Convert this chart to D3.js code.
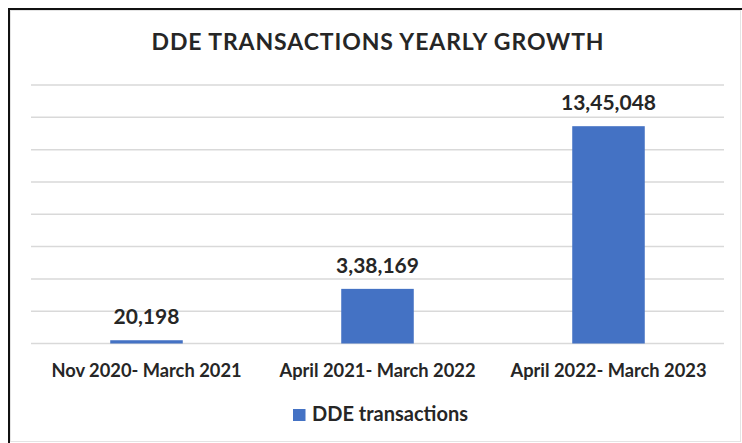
<!DOCTYPE html>
<html>
<head>
<meta charset="utf-8">
<script src="https://cdn.jsdelivr.net/npm/d3@7"></script>
<style>
  html, body { margin: 0; padding: 0; background: #fff; }
  svg { display: block; }
  text { font-family: Lato, "Open Sans", sans-serif; font-weight: 700; fill: #262626; }
</style>
</head>
<body>
<svg id="chart" width="742" height="443"></svg>
<script>
// Periods and DDE transaction counts
const categories = ["Nov 2020- March 2021", "April 2021- March 2022", "April 2022- March 2023"];
const transactions = [20198, 338169, 1345048];
const valueLabels = ["20,198", "3,38,169", "13,45,048"];
const yTicks = [0, 200000, 400000, 600000, 800000, 1000000, 1200000, 1400000, 1600000];
const seriesName = "DDE transactions";
const chartTitle = "DDE TRANSACTIONS YEARLY GROWTH";

const W = 742, H = 443;
const plot = { left: 31, right: 724, top: 85, bottom: 343.5 };
const barColor = "#4472C4";

const svg = d3.select("#chart");

// outer frame: light inner edge, dark top/left edge
svg.append("rect")
  .attr("x", 10.5).attr("y", 10.5)
  .attr("width", W - 12).attr("height", H - 12)
  .attr("fill", "#fff").attr("stroke", "#e4e4e4").attr("stroke-width", 1);
svg.append("path")
  .attr("d", `M9,${H} V9 H${W}`)
  .attr("fill", "none").attr("stroke", "#111").attr("stroke-width", 2);

const x = d3.scaleBand()
  .domain(categories)
  .range([plot.left, plot.right])
  .paddingInner(0.686)
  .paddingOuter(0.343);

const y = d3.scaleLinear()
  .domain([0, d3.max(yTicks)])
  .range([plot.bottom, plot.top]);

// horizontal gridlines
svg.append("g")
  .selectAll("line")
  .data(yTicks)
  .join("line")
  .attr("x1", plot.left).attr("x2", plot.right)
  .attr("y1", d => y(d)).attr("y2", d => y(d))
  .attr("stroke", "#d9d9d9").attr("stroke-width", 1.5);

// bars
svg.append("g")
  .selectAll("rect")
  .data(transactions)
  .join("rect")
  .attr("x", (d, i) => x(categories[i]))
  .attr("y", d => y(d))
  .attr("width", x.bandwidth())
  .attr("height", d => y(0) - y(d))
  .attr("fill", barColor);

// value labels above bars
svg.append("g")
  .selectAll("text")
  .data(transactions)
  .join("text")
  .attr("x", (d, i) => x(categories[i]) + x.bandwidth() / 2)
  .attr("y", d => y(d) - 16)
  .attr("text-anchor", "middle")
  .attr("font-size", 21)
  .text((d, i) => valueLabels[i]);

// category axis labels
const xAxis = d3.axisBottom(x).tickSize(0).tickPadding(0);
const gx = svg.append("g")
  .attr("transform", `translate(0,${plot.bottom})`)
  .call(xAxis);
gx.select(".domain").remove();
gx.selectAll("text")
  .attr("dy", null)
  .attr("y", 33)
  .attr("font-size", 18.3)
  .attr("fill", "#262626")
  .style("font-family", "Lato, sans-serif")
  .style("font-weight", 700);

// title
svg.append("text")
  .attr("x", 378).attr("y", 50)
  .attr("text-anchor", "middle")
  .attr("font-size", 23)
  .attr("letter-spacing", 0.9)
  .text(chartTitle);

// legend
const legend = svg.append("g").attr("transform", "translate(293,409)");
legend.append("rect")
  .attr("width", 12.5).attr("height", 12)
  .attr("fill", barColor);
legend.append("text")
  .attr("x", 19).attr("y", 12.3)
  .attr("font-size", 20)
  .text(seriesName);
</script>
</body>
</html>
